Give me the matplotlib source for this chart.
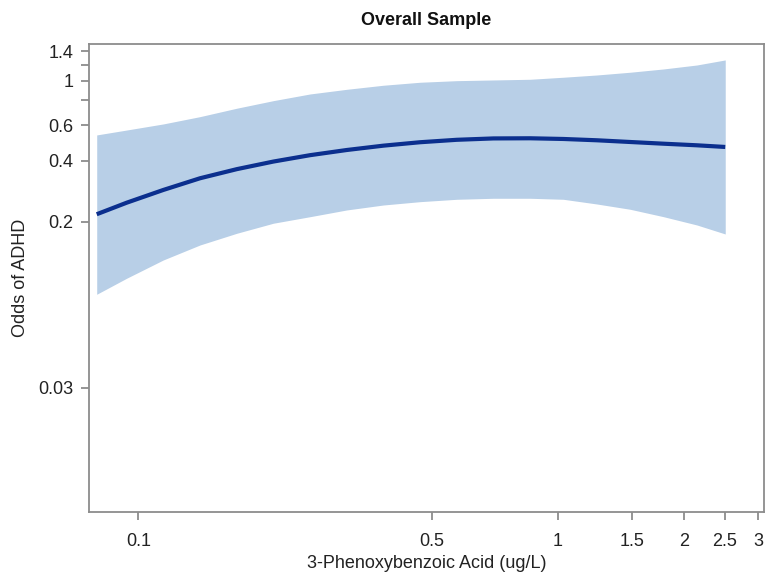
import matplotlib
matplotlib.use("Agg")
import matplotlib.pyplot as plt
from matplotlib.ticker import FixedLocator, NullLocator

plt.rcParams['font.family'] = ['Liberation Sans', 'DejaVu Sans']

# Data (x: 3-PBA ug/L, odds estimate and 95% band)
conc = [0.0796, 0.0938, 0.1147, 0.1403, 0.1717, 0.2099, 0.2567, 0.3140, 0.3838,
        0.4694, 0.5742, 0.7023, 0.8590, 1.031, 1.239, 1.487, 1.786, 2.145, 2.506]
odds = [0.2175, 0.2481, 0.2870, 0.3280, 0.3640, 0.3970, 0.4270, 0.4530, 0.4760,
        0.4950, 0.5090, 0.5170, 0.5179, 0.5138, 0.5062, 0.4964, 0.4868, 0.4780, 0.4690]
upper = [0.538, 0.569, 0.610, 0.663, 0.730, 0.796, 0.859, 0.906, 0.949,
         0.982, 1.000, 1.008, 1.016, 1.040, 1.067, 1.101, 1.143, 1.196, 1.267]
lower = [0.0872, 0.1047, 0.1290, 0.1531, 0.1750, 0.1963, 0.2115, 0.2284, 0.2417,
         0.2511, 0.2580, 0.2610, 0.2610, 0.2580, 0.2445, 0.2302, 0.2115, 0.1924, 0.1736]

xticks = [0.1, 0.5, 1, 1.5, 2, 2.5, 3]
xticklabels = ['0.1', '0.5', '1', '1.5', '2', '2.5', '3']
yticks = [0.03, 0.2, 0.4, 0.6, 0.8, 1, 1.2, 1.4]
yticklabels = ['0.03', '0.2', '0.4', '0.6', '', '1', '', '1.4']

fig = plt.figure(figsize=(7.66, 5.77), dpi=100)
ax = fig.add_axes([89/766, 1-511.7/577, (764-89)/766, (511.7-44)/577])

ax.fill_between(conc, lower, upper, color='#b8cfe7', linewidth=0)
ax.plot(conc, odds, color='#0b2f8e', linewidth=3, solid_capstyle='butt')

ax.set_xscale('log')
ax.set_yscale('log')
ax.set_xlim(0.0763, 3.10)
ax.set_ylim(0.00728, 1.52)

ax.xaxis.set_major_locator(FixedLocator(xticks))
ax.set_xticklabels(xticklabels)
ax.xaxis.set_minor_locator(NullLocator())
ax.yaxis.set_major_locator(FixedLocator(yticks))
ax.set_yticklabels(yticklabels)
ax.yaxis.set_minor_locator(NullLocator())

gray = '#8c8c8c'
for s in ax.spines.values():
    s.set_color(gray)
    s.set_linewidth(1.3)
ax.tick_params(axis='both', colors=gray, length=6, width=1.3, labelsize=13,
               labelcolor='#222222', pad=5)
ax.tick_params(axis='x', pad=9)

ax.set_xlabel('3-Phenoxybenzoic Acid (ug/L)', fontsize=13, color='#222222', labelpad=4)
ax.set_ylabel('Odds of ADHD', fontsize=13, color='#222222', labelpad=7)
ax.set_title('Overall Sample', fontsize=13, fontweight='bold', color='#111111', pad=14)

fig.savefig('out.png', dpi=100)
